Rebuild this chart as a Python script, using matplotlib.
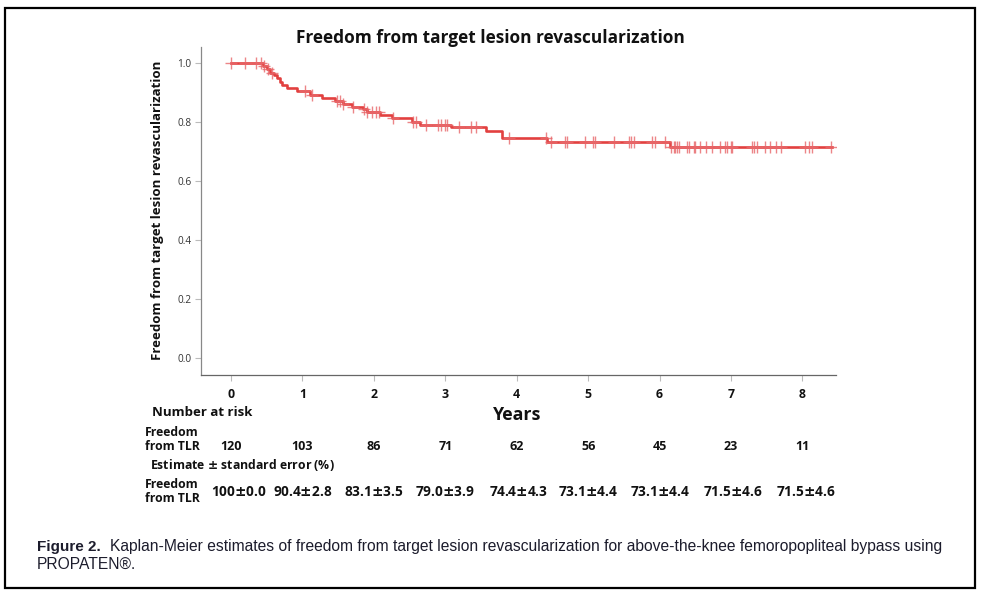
import matplotlib
matplotlib.use("Agg")
import matplotlib.pyplot as plt
import matplotlib.transforms as mtransforms
from matplotlib import font_manager
from matplotlib.patches import Rectangle
import numpy as np

# ---- data ----
event_times = [0, 0.45, 0.50, 0.55, 0.60, 0.64, 0.68, 0.72, 0.78, 0.92, 1.10, 1.27, 1.46,
               1.57, 1.69, 1.85, 1.90, 2.09, 2.26, 2.53, 2.65, 3.08, 3.57, 3.79, 4.42, 6.15]
event_surv = [1.0, 0.990, 0.979, 0.967, 0.958, 0.948, 0.937, 0.925, 0.914, 0.905, 0.892, 0.880,
              0.872, 0.862, 0.852, 0.843, 0.834, 0.824, 0.812, 0.801, 0.790, 0.782, 0.768,
              0.744, 0.731, 0.715]
censor_times = [0.0, 0.19, 0.35, 0.42, 0.46, 0.52, 0.57, 1.03, 1.13, 1.48, 1.52, 1.57, 1.71,
                1.86, 1.90, 1.97, 2.03, 2.07, 2.27, 2.55, 2.59, 2.73, 2.90, 2.94, 2.99, 3.03,
                3.19, 3.36, 3.43, 3.89, 4.41, 4.48, 4.68, 4.71, 4.96, 5.07, 5.10, 5.36, 5.57,
                5.60, 5.64, 5.90, 5.93, 6.08, 6.16, 6.20, 6.22, 6.25, 6.27, 6.39, 6.41, 6.48,
                6.50, 6.57, 6.65, 6.74, 6.84, 6.92, 6.95, 7.00, 7.02, 7.30, 7.32, 7.36, 7.47,
                7.55, 7.63, 7.70, 8.03, 8.09, 8.14, 8.40]
follow_up_end = 8.41
years = [0, 1, 2, 3, 4, 5, 6, 7, 8]
at_risk = ["120", "103", "86", "71", "62", "56", "45", "23", "11"]
estimates = ["100±0.0", "90.4±2.8", "83.1±3.5", "79.0±3.9", "74.4±4.3",
             "73.1±4.4", "73.1±4.4", "71.5±4.6", "71.5±4.6"]
y_ticks = [0.0, 0.2, 0.4, 0.6, 0.8, 1.0]

title = "Freedom from target lesion revascularization"
ylabel = "Freedom from target lesion revascularization"

names = {f.name for f in font_manager.fontManager.ttflist}
main_font = "Open Sans" if "Open Sans" in names else "DejaVu Sans"
cap_font = "Liberation Sans Narrow" if "Liberation Sans Narrow" in names else "Liberation Sans"
plt.rcParams['font.family'] = [main_font, 'DejaVu Sans']
plt.rcParams['mathtext.fontset'] = 'dejavusans'


def wide_pm(s):
    return s.replace("±", r"$\mathbf{\pm}$")


W, H = 981, 598
fig = plt.figure(figsize=(W / 100, H / 100), dpi=100)
fig.patch.set_facecolor("white")


def fx(px):
    return px / W


def fy(py):
    return 1 - py / H


ax = fig.add_axes([fx(201), fy(375), fx(836) - fx(201), fy(47) - fy(375)])
red = "#e2403f"
ink = "#111111"

st = list(event_times) + [follow_up_end]
ss = list(event_surv) + [event_surv[-1]]
ax.step(st, ss, where="post", color=red, lw=1.9, zorder=3)

ct = np.array(censor_times)
idx = np.searchsorted(np.array(event_times), ct, side="right") - 1
cs = np.array(event_surv)[idx]
ax.plot(ct, cs, linestyle="none", marker="+", markersize=9, markeredgewidth=1.0,
        color="#e8676a", alpha=0.8, zorder=4)

ax.set_xlim(-0.42, 8.47)
ax.set_ylim(-0.058, 1.054)
ax.set_xticks(years)
ax.set_xticklabels([str(y) for y in years], fontsize=8.8, fontweight="bold")
ax.set_yticks(y_ticks)
ax.set_yticklabels([f"{v:.1f}" for v in y_ticks], fontsize=7.2)
for s in ["top", "right"]:
    ax.spines[s].set_visible(False)
ax.spines["left"].set_color("#888888")
ax.spines["bottom"].set_color("#666666")
ax.spines["left"].set_linewidth(0.9)
ax.spines["bottom"].set_linewidth(0.9)
ax.tick_params(axis="x", length=4, width=0.8, color="#bbbbbb", pad=5.5, labelcolor=ink)
ax.tick_params(axis="y", length=4, width=0.8, color="#bbbbbb", pad=3, labelcolor="#333333")

fig.text(fx(490), fy(38), title, ha="center", va="center", fontsize=12.4,
         fontweight="bold", color=ink)
fig.text(fx(157), fy(210), ylabel, ha="center", va="center", rotation=90,
         fontsize=9.5, fontweight="bold", color=ink)

tr = mtransforms.blended_transform_factory(ax.transData, fig.transFigure)
fig.text(fx(517), fy(415), "Years", ha="center", va="center", fontsize=12.8,
         fontweight="bold", color=ink)
fig.text(fx(152), fy(412), "Number at risk", ha="left", va="center", fontsize=9.5,
         fontweight="bold", color=ink)
fig.text(fx(145), fy(432), "Freedom", ha="left", va="center", fontsize=8.8,
         fontweight="bold", color=ink)
fig.text(fx(145), fy(447), "from TLR", ha="left", va="center", fontsize=8.8,
         fontweight="bold", color=ink)
for x, n in zip(years, at_risk):
    ax.text(x, fy(447), n, transform=tr, ha="center", va="center", fontsize=9,
            fontweight="bold", color=ink)
fig.text(fx(150), fy(465), wide_pm("Estimate ± standard error (%)"), ha="left", va="center",
         fontsize=8.8, fontweight="bold", color=ink)
fig.text(fx(145), fy(484), "Freedom", ha="left", va="center", fontsize=8.8,
         fontweight="bold", color=ink)
fig.text(fx(145), fy(499), "from TLR", ha="left", va="center", fontsize=8.8,
         fontweight="bold", color=ink)
# small horizontal nudges (pixels) for the end columns, as in the original table
est_nudge_px = [8, 0, 0, 0, 2, 0, 0, 2, 3]
for x, e, dx in zip(years, estimates, est_nudge_px):
    t = tr + mtransforms.ScaledTranslation(dx / 100, 0, fig.dpi_scale_trans)
    ax.text(x, fy(492), wide_pm(e), transform=t, ha="center", va="center", fontsize=9.8,
            fontweight="bold", color=ink)

# caption
cap_col = "#1c1c2c"
fig.text(fx(37), fy(547), "Figure 2.", ha="left", va="center", fontsize=11,
         fontweight="bold", family=cap_font, color=cap_col)
fig.text(fx(110), fy(547),
         "Kaplan-Meier estimates of freedom from target lesion revascularization for above-the-knee femoropopliteal bypass using",
         ha="left", va="center", fontsize=11.25, family=cap_font, color=cap_col)
fig.text(fx(37), fy(564), "PROPATEN®.", ha="left", va="center", fontsize=11.25,
         family=cap_font, color=cap_col)

# outer border
fig.add_artist(Rectangle((fx(5), fy(588)), fx(975) - fx(5), fy(8) - fy(588),
                         transform=fig.transFigure, fill=False, edgecolor="black", lw=1.6))

fig.savefig("out.png", dpi=100, facecolor="white")
